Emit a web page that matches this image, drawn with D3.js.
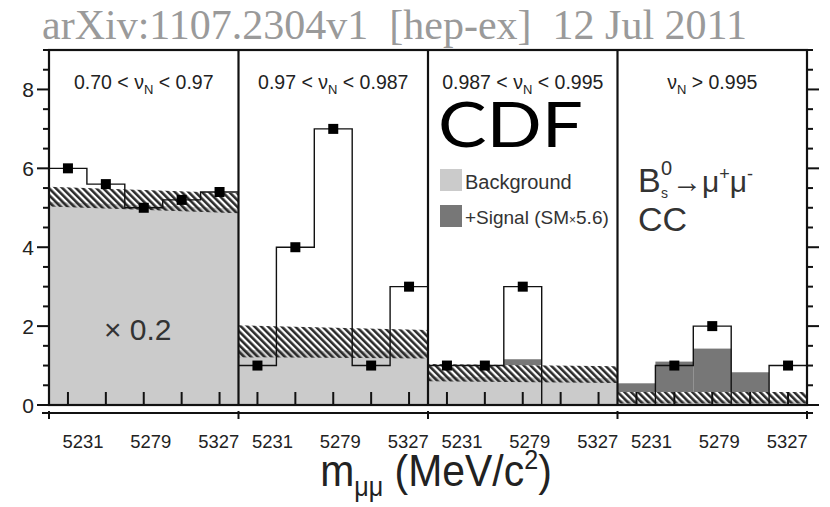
<!DOCTYPE html>
<html><head><meta charset="utf-8">
<script src="https://cdn.jsdelivr.net/npm/d3@7"></script>
<style>body{margin:0;background:#fff}svg{display:block}</style>
</head><body><svg id="c" width="830" height="507"></svg>
<script>
// ---- data ----
const panelPre  = ["0.70 < \u03bd", "0.97 < \u03bd", "0.987 < \u03bd", "\u03bd"];
const panelPost = [" < 0.97", " < 0.987", " < 0.995", " > 0.995"];
const bins = [0, 1, 2, 3, 4];
const observed = [[6.0, 5.6, 5.0, 5.2, 5.4], [1, 4, 7, 1, 3], [1, 1, 3, 0, 0], [0, 1, 2, 0, 1]];
const bandHi = [[5.53, 5.37], [2.02, 1.90], [1.04, 0.98], [0.33, 0.33]];
const bandLo = [[5.03, 4.86], [1.21, 1.18], [0.60, 0.56], [0.04, 0.04]];
const bkgTop = [[5.15, 4.98], [1.40, 1.35], [0.72, 0.68], [0.12, 0.12]];
const sigTop = [[null, null, null, null, null], [null, null, null, null, null], [null, null, 1.16, null, null], [0.55, 1.10, 1.43, 0.83, null]];
const yTicks = [0, 2, 4, 6, 8];
const massTicks = [5231, 5279, 5327];

// ---- layout ----
const L = 49, R = 807, T = 50, B = 405;
const svg = d3.select("#c");
svg.append("rect").attr("width", 830).attr("height", 507).attr("fill", "#fff");

const defs = svg.append("defs");
const pat = defs.append("pattern").attr("id", "hatch").attr("patternUnits", "userSpaceOnUse")
  .attr("width", 4.8).attr("height", 4.8).attr("patternTransform", "rotate(-45)");
pat.append("line").attr("x1", 1.3).attr("y1", 0).attr("x2", 1.3).attr("y2", 4.8)
  .attr("stroke", "#262626").attr("stroke-width", 2.5);

const panelX = d3.scaleBand().domain(d3.range(4)).range([L, R]);
const pw = panelX.bandwidth();
const binX = d3.scaleBand().domain(bins).range([0, pw]);
const y = d3.scaleLinear().domain([0, 9]).range([B, T]);
const massX = d3.scaleLinear().domain([5207, 5341]).range([0, pw]);
const lerp = (a, t) => a[0] + (a[1] - a[0]) * t;

const font = "'Liberation Sans', Arial, sans-serif";

// header
svg.append("text").attr("x", 42).attr("y", 39).attr("font-family", "'Liberation Serif', 'Times New Roman', serif")
  .attr("font-size", 42).attr("fill", "#9a9a9a").attr("textLength", 705).attr("lengthAdjust", "spacingAndGlyphs")
  .attr("xml:space", "preserve")
  .text("arXiv:1107.2304v1  [hep-ex]  12 Jul 2011");

for (let p = 0; p < 4; p++) {
  const g = svg.append("g").attr("transform", `translate(${panelX(p)},0)`);
  const xs = [0, pw];
  // background fill
  g.append("path").attr("fill", "#cbcbcb")
    .attr("d", d3.area().x(d => d).y0(B).y1(d => y(lerp(bkgTop[p], d / pw)))(xs));
  // signal bars
  bins.forEach(i => {
    const s = sigTop[p][i];
    if (s == null) return;
    const t = (binX(i) + binX.bandwidth() / 2) / pw;
    const base = lerp(bandHi[p], t);
    g.append("rect").attr("x", binX(i)).attr("width", binX.bandwidth())
      .attr("y", y(s)).attr("height", y(base) - y(s)).attr("fill", "#777");
  });
  // hatch band
  g.append("path").attr("fill", "url(#hatch)")
    .attr("d", d3.area().x(d => d).y0(d => y(lerp(bandLo[p], d / pw))).y1(d => y(lerp(bandHi[p], d / pw)))(xs));
  // step histogram
  const pts = bins.map(i => [binX(i), observed[p][i]]);
  pts.push([pw, observed[p][4]]);
  g.append("path").attr("fill", "none").attr("stroke", "#111").attr("stroke-width", 1.4)
    .attr("d", d3.line().x(d => d[0]).y(d => y(d[1])).curve(d3.curveStepAfter)(pts));
  // markers
  bins.forEach(i => {
    const v = observed[p][i];
    if (v <= 0) return;
    const cx = binX(i) + binX.bandwidth() / 2;
    g.append("rect").attr("x", cx - 5).attr("y", y(v) - 5).attr("width", 10).attr("height", 10).attr("fill", "#000");
  });
  // inner bin ticks
  bins.forEach(i => {
    const cx = binX(i) + binX.bandwidth() / 2;
    g.append("line").attr("x1", cx).attr("x2", cx).attr("y1", B).attr("y2", B - 13)
      .attr("stroke", "#111").attr("stroke-width", 2);
  });
  // panel label
  const lt = g.append("text").attr("x", pw / 2).attr("y", 89).attr("text-anchor", "middle")
    .attr("font-family", font).attr("font-size", 19.5).attr("fill", "#222").attr("xml:space", "preserve");
  lt.append("tspan").text(panelPre[p]);
  lt.append("tspan").attr("dy", 5).attr("font-size", 13).text("N");
  lt.append("tspan").attr("dy", -5).text(panelPost[p]);
  // mass tick labels
  massTicks.forEach(m => {
    g.append("text").attr("x", massX(m)).attr("y", 448).attr("text-anchor", "middle")
      .attr("font-family", font).attr("font-size", 19).attr("fill", "#222")
      .attr("textLength", 41).attr("lengthAdjust", "spacingAndGlyphs").text(m);
  });
}

// frame
svg.append("rect").attr("x", L).attr("y", T).attr("width", R - L).attr("height", B - T)
  .attr("fill", "none").attr("stroke", "#111").attr("stroke-width", 2.2);
for (let p = 1; p < 4; p++) {
  svg.append("line").attr("x1", panelX(p)).attr("x2", panelX(p)).attr("y1", T).attr("y2", B)
    .attr("stroke", "#111").attr("stroke-width", 2.2);
}
// y ticks
d3.range(0, 9.01, 0.5).forEach(v => {
  const major = yTicks.includes(v);
  const len = major ? 12 : 6;
  svg.append("line").attr("x1", L - len).attr("x2", L).attr("y1", y(v)).attr("y2", y(v)).attr("stroke", "#111").attr("stroke-width", 2);
  svg.append("line").attr("x1", R).attr("x2", R + len).attr("y1", y(v)).attr("y2", y(v)).attr("stroke", "#111").attr("stroke-width", 2);
});
yTicks.forEach(v => {
  svg.append("text").attr("x", 34).attr("y", y(v) + 7.5).attr("text-anchor", "end")
    .attr("font-family", font).attr("font-size", 21).attr("fill", "#222").text(v);
});
// bottom axis
svg.append("line").attr("x1", 42).attr("x2", 813).attr("y1", 413).attr("y2", 413).attr("stroke", "#111").attr("stroke-width", 2.2);
d3.range(5).forEach(k => {
  const xx = L + k * pw;
  svg.append("line").attr("x1", xx).attr("x2", xx).attr("y1", 411).attr("y2", 419).attr("stroke", "#111").attr("stroke-width", 2);
});

// x title
const xt = svg.append("text").attr("transform", "translate(436,486) scale(0.93,1)").attr("text-anchor", "middle")
  .attr("font-family", font).attr("font-size", 44).attr("fill", "#222").attr("xml:space", "preserve");
xt.append("tspan").text("m");
xt.append("tspan").attr("dy", 10).attr("font-size", 27).text("\u03bc\u03bc");
xt.append("tspan").attr("dy", -10).text(" (MeV/c");
xt.append("tspan").attr("dy", -17).attr("font-size", 27).text("2");
xt.append("tspan").attr("dy", 17).text(")");

// x 0.2
svg.append("text").attr("x", 104).attr("y", 340).attr("font-family", font).attr("font-size", 30).attr("fill", "#333")
  .attr("xml:space", "preserve").text("\u00d7 0.2");

// CDF + legend (panel 3)
svg.append("text").attr("x", 438).attr("y", 147).attr("font-family", "Lato, 'Noto Sans', sans-serif")
  .attr("font-size", 62).attr("fill", "#000").attr("textLength", 145).attr("lengthAdjust", "spacingAndGlyphs").text("CDF");
svg.append("rect").attr("x", 440).attr("y", 169).attr("width", 22).attr("height", 22).attr("fill", "#cbcbcb");
svg.append("text").attr("x", 465).attr("y", 189).attr("font-family", font).attr("font-size", 20).attr("fill", "#333").text("Background");
svg.append("rect").attr("x", 440).attr("y", 205).attr("width", 22).attr("height", 22).attr("fill", "#777");
const st = svg.append("text").attr("x", 465).attr("y", 224).attr("font-family", font).attr("font-size", 19).attr("fill", "#333");
st.append("tspan").text("+Signal (SM");
st.append("tspan").attr("font-size", 12).text("\u00d7");
st.append("tspan").text("5.6)");

// process label (panel 4)
const pf = "'Liberation Sans', Arial, sans-serif";
svg.append("text").attr("x", 638).attr("y", 192).attr("font-family", pf).attr("font-size", 34).attr("fill", "#333").text("B");
svg.append("text").attr("x", 661).attr("y", 175).attr("font-family", pf).attr("font-size", 20).attr("fill", "#333").text("0");
svg.append("text").attr("x", 661).attr("y", 198).attr("font-family", pf).attr("font-size", 14).attr("fill", "#333").text("s");
const pr = svg.append("text").attr("x", 672).attr("y", 192).attr("font-family", pf).attr("font-size", 30).attr("fill", "#333");
pr.append("tspan").text("\u2192\u03bc");
pr.append("tspan").attr("dy", -12).attr("font-size", 18).text("+");
pr.append("tspan").attr("dy", 12).text("\u03bc");
pr.append("tspan").attr("dy", -12).attr("font-size", 18).text("-");
svg.append("text").attr("x", 638).attr("y", 231).attr("font-family", pf).attr("font-size", 34).attr("fill", "#333").text("CC");
</script></body></html>
